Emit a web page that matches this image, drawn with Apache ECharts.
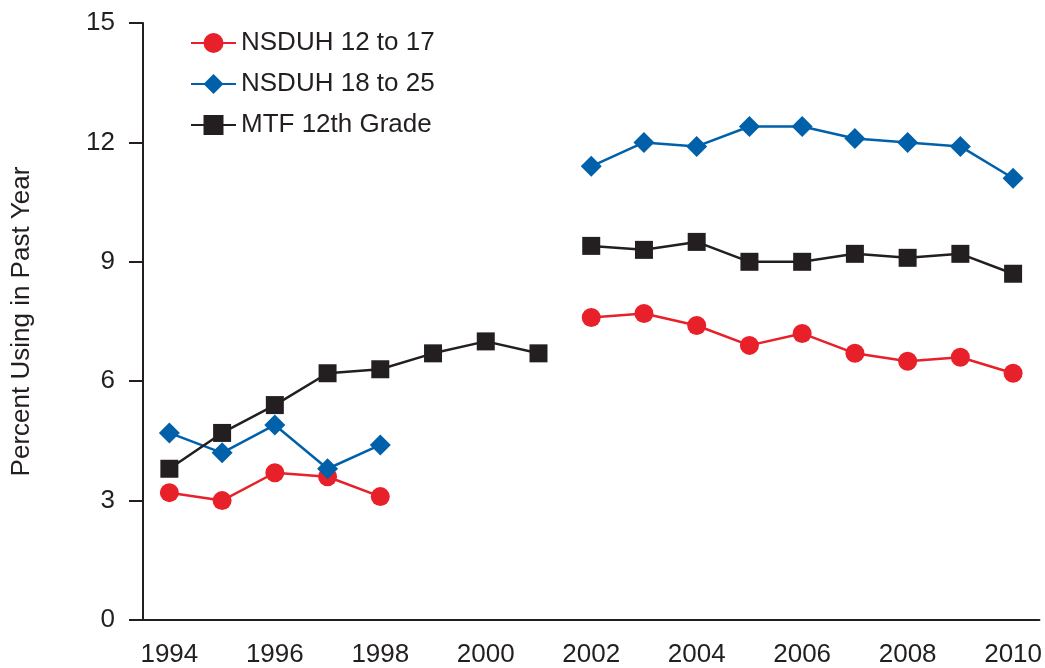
<!DOCTYPE html>
<html>
<head>
<meta charset="utf-8">
<script src="https://cdn.jsdelivr.net/npm/echarts@6/dist/echarts.min.js"></script>
<style>
  html, body { margin: 0; padding: 0; background: #fff; }
  #chart { width: 1045px; height: 668px; }
</style>
</head>
<body>
<div id="chart"></div>
<script>
var years = ['1994', '1995', '1996', '1997', '1998', '1999', '2000', '2001', '2002',
    '2003', '2004', '2005', '2006', '2007', '2008', '2009', '2010'];

// NSDUH: no survey values 1999-2001 (gap)
var nsduh12to17 = [3.2, 3.0, 3.7, 3.6, 3.1, null, null, null, 7.6, 7.7, 7.4, 6.9, 7.2, 6.7, 6.5, 6.6, 6.2];
var nsduh18to25 = [4.7, 4.2, 4.9, 3.8, 4.4, null, null, null, 11.4, 12.0, 11.9, 12.4, 12.4, 12.1, 12.0, 11.9, 11.1];
// MTF line breaks between 2001 and 2002
var mtfEarly = [3.8, 4.7, 5.4, 6.2, 6.3, 6.7, 7.0, 6.7, null, null, null, null, null, null, null, null, null];
var mtfLate = [null, null, null, null, null, null, null, null, 9.4, 9.3, 9.5, 9.0, 9.0, 9.2, 9.1, 9.2, 8.7];

var yTicks = [0, 3, 6, 9, 12, 15];

var RED = '#e8202a';
var BLUE = '#0061aa';
var BLACK = '#231f20';
var FONT = 'Liberation Sans, Arial, sans-serif';
var FS = 26;

function lineSeries(name, data, color, symbol, size) {
    return {
        name: name,
        type: 'line',
        data: data,
        symbol: symbol,
        symbolSize: size,
        connectNulls: false,
        itemStyle: { color: color },
        lineStyle: { color: color, width: 2.5 },
        emphasis: { disabled: true },
        z: 3
    };
}

var chart = echarts.init(document.getElementById('chart'));
chart.setOption({
    animation: false,
    textStyle: { fontFamily: FONT },
    grid: { left: 143, right: 5, top: 23, bottom: 47, containLabel: false },
    legend: {
        data: ['NSDUH 12 to 17', 'NSDUH 18 to 25', 'MTF 12th Grade'],
        orient: 'vertical',
        left: 190,
        top: 30,
        itemWidth: 45,
        itemHeight: 25,
        itemGap: 15,
        padding: 0,
        textStyle: { fontSize: FS, color: BLACK, fontFamily: FONT }
    },
    xAxis: {
        type: 'category',
        data: years,
        boundaryGap: true,
        axisLine: { lineStyle: { color: BLACK, width: 2 } },
        axisTick: { alignWithLabel: true, interval: 1, length: 15, lineStyle: { color: BLACK, width: 2 } },
        axisLabel: { interval: 1, fontSize: FS, color: BLACK, margin: 22, fontFamily: FONT },
        splitLine: { show: false }
    },
    yAxis: {
        type: 'value',
        min: yTicks[0],
        max: yTicks[yTicks.length - 1],
        interval: 3,
        name: 'Percent Using in Past Year',
        nameLocation: 'middle',
        nameGap: 108,
        nameTextStyle: { fontSize: FS, color: BLACK, fontFamily: FONT },
        axisLine: { show: true, lineStyle: { color: BLACK, width: 2 } },
        axisTick: { show: true, length: 14, lineStyle: { color: BLACK, width: 2 } },
        axisLabel: { fontSize: FS, color: BLACK, margin: 28, fontFamily: FONT },
        splitLine: { show: false }
    },
    series: [
        lineSeries('NSDUH 12 to 17', nsduh12to17, RED, 'circle', 19),
        lineSeries('NSDUH 18 to 25', nsduh18to25, BLUE, 'diamond', 21),
        lineSeries('MTF 12th Grade', mtfEarly, BLACK, 'rect', 18),
        lineSeries('MTF 12th Grade', mtfLate, BLACK, 'rect', 18)
    ]
});
</script>
</body>
</html>
